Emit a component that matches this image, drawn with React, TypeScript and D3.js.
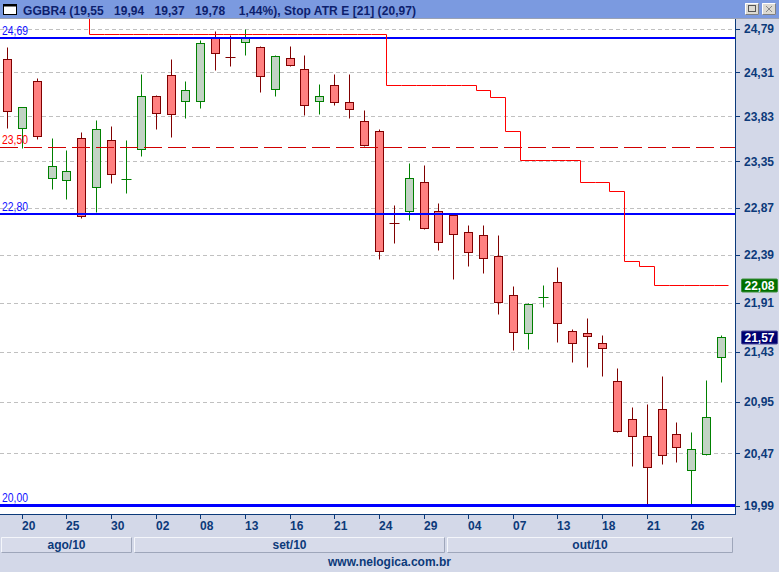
import React from 'react';
import * as d3 from 'd3';

const W = 779;
const H = 572;

// trading days (MM-DD), 2010
const dates = [
  '08-19', '08-20', '08-23', '08-24', '08-25', '08-26', '08-27', '08-30', '08-31',
  '09-01', '09-02', '09-03', '09-06', '09-08', '09-09', '09-10', '09-13', '09-14', '09-15',
  '09-16', '09-17', '09-20', '09-21', '09-22', '09-23', '09-24', '09-27', '09-28', '09-29', '09-30',
  '10-01', '10-04', '10-05', '10-06', '10-07', '10-08', '10-11', '10-13', '10-14', '10-15',
  '10-18', '10-19', '10-20', '10-21', '10-22', '10-25', '10-26', '10-27', '10-28',
];

const opens = [
  24.45, 23.71, 24.21, 23.18, 23.16, 23.6, 23.08, 23.58, 23.17, 23.48,
  24.05, 24.28, 24.0, 24.0, 24.69, 24.49, 24.64, 24.59, 24.13, 24.47,
  24.34, 24.0, 24.17, 23.99, 23.78, 23.67, 22.72, 22.83, 23.14, 22.83,
  22.79, 22.62, 22.59, 22.38, 21.99, 21.61, 21.97, 22.11, 21.63, 21.61,
  21.51, 21.15, 20.79, 20.63, 20.88, 20.65, 20.32, 20.46, 21.38,
];
const highs = [
  24.59, 23.93, 24.25, 23.6, 23.47, 23.66, 23.79, 23.73, 23.58, 24.29,
  24.06, 24.45, 24.21, 24.66, 24.77, 24.72, 24.79, 24.6, 24.5, 24.6,
  24.5, 24.18, 24.29, 24.29, 23.9, 23.69, 22.9, 23.33, 23.31, 22.92,
  22.8, 22.69, 22.69, 22.59, 22.07, 21.91, 22.08, 22.26, 21.65, 21.76,
  21.59, 21.27, 20.9, 20.93, 21.2, 20.76, 20.67, 21.16, 21.59,
];
const lows = [
  23.71, 23.49, 23.59, 23.06, 22.96, 22.76, 22.82, 23.12, 23.02, 23.41,
  23.69, 23.61, 23.81, 23.92, 24.33, 24.38, 24.5, 24.09, 24.05, 24.38,
  23.84, 23.86, 23.95, 23.81, 23.51, 22.35, 22.51, 22.74, 22.65, 22.44,
  22.14, 22.27, 22.2, 21.8, 21.45, 21.46, 21.87, 21.52, 21.33, 21.28,
  21.2, 20.67, 20.35, 20.01, 20.37, 20.39, 20.01, 20.45, 21.14,
];
const closes = [
  23.89, 23.93, 23.62, 23.3, 23.25, 22.78, 23.69, 23.22, 23.17, 24.05,
  23.87, 23.86, 24.11, 24.63, 24.52, 24.48, 24.7, 24.27, 24.49, 24.39,
  23.95, 24.05, 23.99, 23.91, 23.52, 22.43, 22.71, 23.18, 22.66, 22.52,
  22.6, 22.42, 22.36, 21.92, 21.62, 21.9, 21.97, 21.71, 21.51, 21.58,
  21.47, 20.68, 20.63, 20.34, 20.45, 20.53, 20.51, 20.81, 21.57,
];

// Stop ATR E [21]
const stopATR: (number | null)[] = [
  null, null, null, null, null, 25.2,
  24.73, 24.73, 24.73, 24.73, 24.73, 24.73, 24.73, 24.73, 24.73, 24.73,
  24.73, 24.73, 24.73, 24.73, 24.73, 24.73, 24.73, 24.73, 24.73, 24.73,
  24.17, 24.17, 24.17, 24.17, 24.17, 24.17,
  24.12, 24.04, 23.67, 23.37, 23.37, 23.37, 23.37, 23.13, 23.13, 23.04,
  22.32, 22.27, 22.08, 22.08, 22.08, 22.08, 22.08,
];

const priceTicks = [24.79, 24.31, 23.83, 23.35, 22.87, 22.39, 21.91, 21.43, 20.95, 20.47, 19.99];
const blueLevels = [24.69, 22.8, 20.0];
const redLevel = 23.5;
const monthLabels: Record<string, string> = { '08': 'ago/10', '09': 'set/10', '10': 'out/10' };
const titleText = 'GGBR4 (19,55   19,94   19,37   19,78    1,44%), Stop ATR E [21] (20,97)';

const fmt = (v: number) => v.toFixed(2).replace('.', ',');

const PL = 0, PR = 735, PT = 19, PB = 514;
const AXIS = '#0c3a7a';
const FONT = '"Liberation Sans", Arial, sans-serif';

export default function App() {
  const n = dates.length;
  const x = d3.scaleBand<number>().domain(d3.range(n)).range([-0.44, 728.44]);
  const bw = x.bandwidth();
  const cx = (i: number) => Math.round((x(i) as number) + bw / 2);
  const y = d3.scaleLog().domain([19.917, 24.9]).range([PB, PT]);
  const yc = (v: number) => Math.round(y(v)) + 0.5;
  const xe = (v: number) => Math.round(v) + 0.5;

  // stop line points
  const pts: [number, number][] = [];
  stopATR.forEach((s, i) => {
    if (s == null) return;
    pts.push([xe(x(i) as number), yc(s)]);
    pts.push([xe((x(i) as number) + bw), yc(s)]);
  });
  const stopPath = d3.line<[number, number]>().x(p => p[0]).y(p => p[1])(pts) || '';

  // month groups
  const months: { key: string; first: number; last: number }[] = [];
  dates.forEach((d, i) => {
    const m = d.slice(0, 2);
    const g = months[months.length - 1];
    if (g && g.key === m) g.last = i;
    else months.push({ key: m, first: i, last: i });
  });

  const tickIdx = d3.range(n).filter(i => i % 3 === 1);
  const lastStop = stopATR[stopATR.length - 1] as number;
  const lastClose = closes[closes.length - 1];

  return (
    <div style={{ position: 'fixed', left: 0, top: 0 }}>
      <svg width={W} height={H} style={{ display: 'block', fontFamily: FONT }}>
        <defs>
          <clipPath id="plotClip">
            <rect x={PL} y={PT} width={PR - PL} height={PB - PT} />
          </clipPath>
        </defs>
        <rect x={0} y={0} width={W} height={H} fill="#d3d8e8" />

        {/* title bar */}
        <rect x={0} y={0} width={W} height={18} fill="#7b9ae0" />
        <line x1={0} x2={W} y1={18.5} y2={18.5} stroke="#9aa2b4" />
        <rect x={3.5} y={4.5} width={13} height={10} fill="#fff" stroke="#000" />
        <rect x={3.5} y={4.5} width={13} height={2} fill="#000" />
        <text x={23} y={15} fontSize={12} fontWeight="bold" fill="#0d1f6d"
          textLength={393} lengthAdjust="spacing" xmlSpace="preserve" style={{ whiteSpace: 'pre' }}>
          {titleText}
        </text>
        {[745, 762].map((bx, k) => (
          <g key={k}>
            <rect x={bx} y={3} width={14} height={12} fill="#dcdad2" />
            <path d={`M${bx + 0.5},${14.5}V${3.5}H${bx + 13.5}`} fill="none" stroke="#fff" />
            <path d={`M${bx + 0.5},${14.5}H${bx + 13.5}V${3.5}`} fill="none" stroke="#808080" />
            {k === 0 ? (
              <rect x={bx + 3.5} y={5.5} width={7} height={6} fill="none" stroke="#555" />
            ) : (
              <path d={`M${bx + 4},${6}L${bx + 10},${12}M${bx + 10},${6}L${bx + 4},${12}`} stroke="#888" />
            )}
          </g>
        ))}

        {/* plot background */}
        <rect x={PL} y={PT} width={PR - PL} height={PB - PT} fill="#fff" />

        <g clipPath="url(#plotClip)">
          {priceTicks.map(t => (
            <line key={t} x1={PL} x2={PR} y1={yc(t)} y2={yc(t)} stroke="#c0c0c0" strokeDasharray="4,3" />
          ))}

          {/* candles */}
          {d3.range(n).map(i => {
            const o = opens[i], c = closes[i], h = highs[i], l = lows[i];
            const up = c >= o;
            const doji = Math.abs(c - o) < 0.015;
            const stroke = up ? '#008000' : '#800000';
            const fill = up ? '#c2d3c4' : '#ff8080';
            const X = cx(i);
            return (
              <g key={i}>
                <line x1={X + 0.5} x2={X + 0.5} y1={yc(h)} y2={yc(l)} stroke={stroke} />
                {doji ? (
                  <line x1={X - 4.5} x2={X + 5.5} y1={yc(c)} y2={yc(c)} stroke={stroke} />
                ) : (
                  <rect x={X - 3.5} y={yc(Math.max(o, c))} width={8}
                    height={Math.max(1, yc(Math.min(o, c)) - yc(Math.max(o, c)))}
                    fill={fill} stroke={stroke} />
                )}
              </g>
            );
          })}

          {/* reference levels */}
          <line x1={PL} x2={PR} y1={yc(redLevel)} y2={yc(redLevel)} stroke="#d00000" strokeDasharray="18,6" />
          {blueLevels.map((v, k) => (
            <line key={v} x1={PL} x2={PR} y1={Math.round(y(v)) + (k === 2 ? 0.5 : 0)} y2={Math.round(y(v)) + (k === 2 ? 0.5 : 0)}
              stroke="#0000ff" strokeWidth={k === 2 ? 3 : 2} />
          ))}

          {/* stop ATR */}
          <path d={stopPath} fill="none" stroke="#ff0000" />

          {/* level labels */}
          {blueLevels.map(v => (
            <text key={v} x={2} y={Math.round(y(v)) - 3} fontSize={13} fill="#1010ff"
              textLength={26} lengthAdjust="spacingAndGlyphs">{fmt(v)}</text>
          ))}
          <text x={2} y={Math.round(y(redLevel)) - 3} fontSize={13} fill="#ff0000"
            textLength={26} lengthAdjust="spacingAndGlyphs">{fmt(redLevel)}</text>
        </g>

        {/* plot border */}
        <line x1={PR + 0.5} x2={PR + 0.5} y1={PT} y2={PB + 1} stroke={AXIS} />
        <line x1={PL} x2={PR + 1} y1={PB + 0.5} y2={PB + 0.5} stroke={AXIS} />

        {/* right axis */}
        {priceTicks.map(t => (
          <g key={t}>
            <line x1={PR + 1} x2={PR + 5} y1={yc(t)} y2={yc(t)} stroke={AXIS} />
            <text x={744} y={y(t) + 4.5} fontSize={12} fontWeight="bold" fill={AXIS}>{fmt(t)}</text>
          </g>
        ))}
        <rect x={741.5} y={Math.round(y(lastStop)) - 6} width={36} height={13} fill="#007000" stroke="#3d8f3d" rx={1} />
        <text x={759.5} y={Math.round(y(lastStop)) + 4.5} fontSize={12} fontWeight="bold" fill="#fff" textAnchor="middle">{fmt(lastStop)}</text>
        <rect x={741.5} y={Math.round(y(lastClose)) - 6} width={36} height={13} fill="#000070" stroke="#4a4a9a" rx={1} />
        <text x={759.5} y={Math.round(y(lastClose)) + 4.5} fontSize={12} fontWeight="bold" fill="#fff" textAnchor="middle">{fmt(lastClose)}</text>

        {/* bottom axis */}
        {tickIdx.map(i => (
          <g key={i}>
            <line x1={cx(i) + 0.5} x2={cx(i) + 0.5} y1={PB + 1} y2={PB + 5} stroke={AXIS} />
            <text x={cx(i)} y={530} fontSize={12} fontWeight="bold" fill={AXIS}>{dates[i].slice(3)}</text>
          </g>
        ))}
        {months.map((m, k) => {
          const x0 = Math.max(1, Math.round((x(m.first) as number) + 1));
          const x1 = k === months.length - 1 ? 733 : Math.round((x(m.last) as number) + bw - 1);
          return (
            <g key={m.key}>
              <rect x={x0} y={537} width={x1 - x0} height={16} fill="#d7dbea" />
              <path d={`M${x0 + 0.5},${552.5}V${537.5}H${x1 - 0.5}`} fill="none" stroke="#f4f6fb" />
              <path d={`M${x0 + 0.5},${552.5}H${x1 - 0.5}V${537.5}`} fill="none" stroke="#9ea6ba" />
              <text x={(x0 + x1) / 2} y={549} fontSize={12} fontWeight="bold" fill={AXIS} textAnchor="middle">
                {monthLabels[m.key]}
              </text>
            </g>
          );
        })}
        <text x={389.5} y={566} fontSize={12} fontWeight="bold" fill={AXIS} textAnchor="middle">www.nelogica.com.br</text>
      </svg>
    </div>
  );
}
